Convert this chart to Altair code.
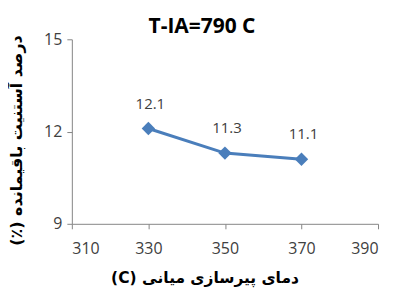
import altair as alt
import pandas as pd

temps = [330, 350, 370]
values = [12.1, 11.3, 11.1]
labels = ["12.1", "11.3", "11.1"]
x_ticks = [310, 330, 350, 370, 390]
y_ticks = [9, 12, 15]
RLE, PDF = "\u202B", "\u202C"
x_title = RLE + "دمای پیرسازی میانی (C)" + PDF
y_title = RLE + "درصد آستنیت باقیمانده (٪)" + PDF

df = pd.DataFrame({"t": temps, "v": values, "lab": labels})

xs = alt.Scale(domain=[310, 390], nice=False, zero=False)
ys = alt.Scale(domain=[9, 15], nice=False, zero=False)

x_axis = alt.Axis(values=x_ticks, title=x_title, grid=False,
                  labelFontSize=16, labelFont="Open Sans", labelColor="#404040",
                  labelPadding=12, tickSize=5, tickColor="#868686",
                  domainColor="#868686", titleFont="DejaVu Sans", titleFontSize=15.5,
                  titleFontWeight="bold", titleColor="#000000",
                  titleX=133, titleY=47, titleBaseline="top")
y_axis = alt.Axis(values=y_ticks, title=y_title, grid=False,
                  labelFontSize=16, labelFont="Open Sans", labelColor="#404040",
                  labelPadding=5, tickSize=5, tickColor="#868686",
                  domainColor="#868686", titleFont="DejaVu Sans", titleFontSize=16,
                  titleFontWeight="bold", titleColor="#000000",
                  titleX=-55, titleY=101, titleBaseline="middle", titleAngle=-90)

base = alt.Chart(df)
line = base.mark_line(color="#4A7EBB", strokeWidth=3).encode(
    x=alt.X("t:Q", scale=xs, axis=x_axis),
    y=alt.Y("v:Q", scale=ys, axis=y_axis),
)
pts = base.mark_point(shape="diamond", filled=True, size=180, color="#4A7EBB", opacity=1).encode(
    x=alt.X("t:Q", scale=xs), y=alt.Y("v:Q", scale=ys)
)
txt = base.mark_text(dy=-25, dx=2, fontSize=15, font="Open Sans", color="#404040").encode(
    x=alt.X("t:Q", scale=xs), y=alt.Y("v:Q", scale=ys), text="lab:N"
)

chart = alt.layer(line, pts, txt).properties(
    width=307, height=185,
    title=alt.TitleParams("T-IA=790 C", font="Open Sans", fontSize=21, fontWeight="bold",
                          color="#000000", anchor="middle", dx=-23, offset=-6),
    padding={"left": 64, "top": 31, "right": 10, "bottom": 64},
    autosize=alt.AutoSizeParams(type="none"),
).configure_view(stroke=None)

chart.save("out.html", embed_options={"renderer": "svg", "actions": False})
